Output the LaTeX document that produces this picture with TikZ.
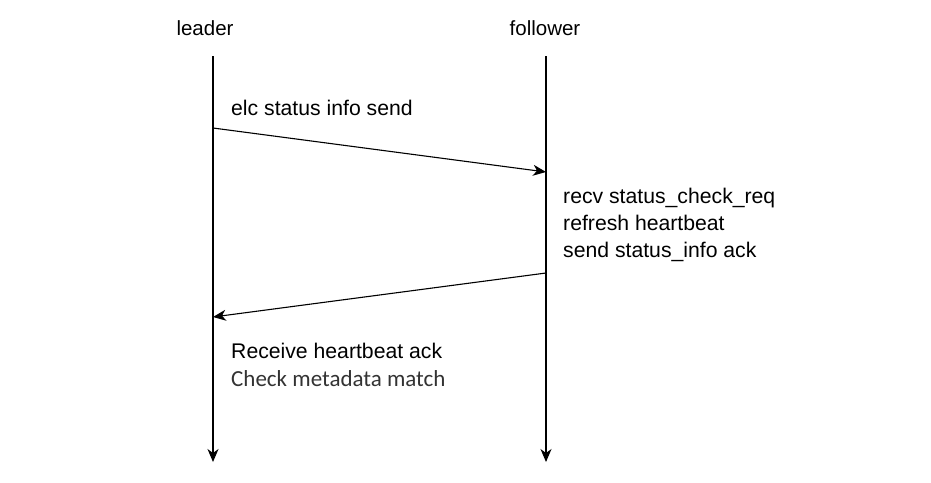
\documentclass[tikz,border=0pt]{standalone}
\usepackage{fontspec}
\setmainfont{Liberation Sans}
\newfontfamily\carlitofont{Carlito}
\usetikzlibrary{arrows.meta}
\definecolor{graytext}{HTML}{333333}
\tikzset{
  lbl/.style={inner sep=0pt, anchor=base, font=\fontsize{20.5}{24}\selectfont},
  txt/.style={inner sep=0pt, anchor=base west, font=\fontsize{21.2}{25}\selectfont},
  life/.style={line width=1.1pt, -{Stealth[length=13pt,width=11pt,inset=4pt]}},
  msg/.style={line width=1.1pt, -{Stealth[length=13pt,width=11pt,inset=4pt]}}
}
\begin{document}
\begin{tikzpicture}[x=1pt,y=-1pt]
\useasboundingbox (0,0) rectangle (931,482);
\node[lbl] (leaderlbl) at (205,35) {leader};
\node[lbl] (followerlbl) at (545,35) {follower};
\coordinate (ltop) at (213,56);
\coordinate (lbot) at (213,462);
\coordinate (ftop) at (546,56);
\coordinate (fbot) at (546,462);
\draw[life] (ltop) -- (lbot);
\draw[life] (ftop) -- (fbot);
\coordinate (m1s) at (213,128);
\coordinate (m1e) at (546,172);
\coordinate (m2s) at (546,273);
\coordinate (m2e) at (213,317);
\draw[msg] (m1s) -- (m1e);
\draw[msg] (m2s) -- (m2e);
\node[txt] (t1) at (231,115) {elc status info send};
\node[txt] (t2) at (563,203) {recv status\_check\_req};
\node[txt] (t3) at (563,230) {refresh heartbeat};
\node[txt] (t4) at (563,257) {send status\_info ack};
\node[txt] (t5) at (231,358) {Receive heartbeat ack};
\node[txt, font=\carlitofont\fontsize{23}{27}\selectfont, text=graytext] (t6) at (231,386) {Check metadata match};
\end{tikzpicture}
\end{document}
